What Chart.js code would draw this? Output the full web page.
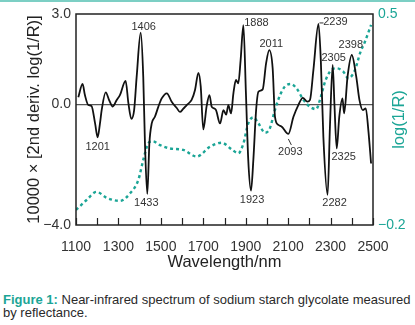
<!DOCTYPE html>
<html>
<head>
<meta charset="utf-8">
<script src="https://cdn.jsdelivr.net/npm/chart.js@4"></script>
<style>
body { margin: 0; background: #fff; width: 415px; height: 325px; overflow: hidden; position: relative; font-family: "Liberation Sans", sans-serif; }
.rule { position: absolute; left: 0; top: 0; width: 415px; height: 2px; background: #7ccfc4; }
#wrap { position: absolute; left: 0; top: 0; width: 415px; height: 283px; }
#cap { position: absolute; left: 3px; top: 293px; font-size: 13px; line-height: 13px; color: #2a2a2a; white-space: nowrap; }
#cap b { color: #1ba596; }
</style>
</head>
<body>
<div class="rule"></div>
<div id="wrap"><canvas id="nir"></canvas></div>
<div id="cap"><b>Figure 1:</b> Near-infrared spectrum of sodium starch glycolate measured<br>by reflectance.</div>
<script>
// 2nd derivative spectrum (left axis, x10000)
const derivNm = [1111, 1131, 1142, 1158, 1173, 1190, 1202, 1213, 1221, 1240, 1257, 1273, 1292, 1307, 1334, 1347, 1361, 1374, 1386, 1405,
  1417, 1425, 1436, 1446, 1457, 1472, 1488, 1504, 1528, 1551, 1575, 1590, 1605, 1622, 1645, 1661, 1677, 1688, 1700, 1716,
  1729, 1740, 1751, 1760, 1779, 1795, 1808, 1818, 1831, 1842, 1854, 1865, 1876, 1889, 1901, 1912, 1925, 1936, 1949, 1960,
  1980, 1996, 2011, 2027, 2038, 2054, 2070, 2101, 2125, 2148, 2169, 2191, 2203, 2219, 2243, 2254, 2266, 2286, 2297, 2310,
  2318, 2329, 2341, 2356, 2364, 2380, 2400, 2421, 2436, 2452, 2466, 2478, 2491];
const derivVal = [0.24, 0.68, 0.31, -0.02, -0.05, -0.63, -1.09, -0.63, -0.19, 0.40, 0.13, -0.07, 0.15, 0.31, 0.78, 0.04, -0.48, -0.19, 0.92, 2.38,
  0.92, -1.28, -2.97, -1.28, -0.63, -0.41, -0.08, 0.20, 0.37, 0.09, -0.12, -0.25, -0.15, -0.02, 0.15, 0.48, 1.05, 0.59, -0.83, -0.05,
  0.31, -0.08, -0.13, -0.19, -0.63, -0.19, -0.34, -0.02, -0.30, 0.37, 0.81, 0.70, 1.47, 2.63, 0.37, -1.84, -2.86, -1.84, -0.19, 0.42,
  0.50, 1.36, 1.80, 1.20, -0.41, -0.68, -0.74, -0.98, -0.41, -0.02, 0.22, 0.09, 0.15, 1.14, 2.67, 1.47, -1.07, -3.00, -0.74, 1.31,
  0.04, -1.46, -0.41, 0.20, -0.30, 0.92, 1.64, 0.92, 0.15, -0.19, -0.13, -0.85, -1.96];

// log(1/R) spectrum (right axis)
const logNm = [1100, 1150, 1197, 1245, 1307, 1355, 1394, 1417, 1441, 1462, 1496, 1543, 1606, 1669, 1732, 1787, 1834, 1865, 1889, 1912,
  1936, 1960, 1991, 2014, 2037, 2062, 2085, 2112, 2140, 2172, 2203, 2232, 2250, 2274, 2297, 2329, 2360, 2384, 2415, 2439,
  2462, 2491];
const logVal = [-0.150, -0.117, -0.090, -0.110, -0.120, -0.095, -0.050, 0.016, 0.071, 0.078, 0.065, 0.054, 0.049, 0.027, 0.060, 0.073, 0.051, 0.038, 0.070, 0.137,
  0.157, 0.137, 0.106, 0.121, 0.180, 0.231, 0.260, 0.268, 0.253, 0.215, 0.192, 0.184, 0.215, 0.275, 0.309, 0.320, 0.309, 0.287, 0.314, 0.370,
  0.408, 0.464];

// marked band positions
const peakNm = [1201, 1406, 1433, 1888, 1923, 2011, 2093, 2239, 2282, 2305, 2325, 2398];

// tick labels
const xLabelNm = [1100, 1300, 1500, 1700, 1900, 2100, 2300, 2500];
const leftTicks = [-4, 0, 3];
const rightTicks = [-0.2, 0.5];

// label placement relative to the marked point (pixels)
const peakOffset = [[0, 10], [3, -6], [-1, 9], [13, -2], [1, 9], [2, -6], [2, 18], [17, -2], [7, 8], [1, -7], [7, 9], [-1, -10]];
const peakLeader = { 2093: [0, 5, 3, 11], 2239: [1, -1, 5, -1] };

const teal = '#1ba596';
const ink = '#222';

function fmt(v) {
  return (v < 0 ? '\u2212' : '') + Math.abs(v).toFixed(1);
}

const decor = {
  id: 'decor',
  afterDatasetsDraw(chart) {
    const { ctx, chartArea: a, scales: { x, y } } = chart;
    ctx.save();
    ctx.strokeStyle = ink;
    ctx.lineWidth = 1.5;
    ctx.strokeRect(a.left, a.top, a.right - a.left, a.bottom - a.top);

    // inward tick marks on the wavelength axis
    ctx.lineWidth = 1.2;
    x.ticks.forEach(t => {
      const px = Math.round(x.getPixelForValue(t.value)) + 0.5;
      ctx.beginPath();
      ctx.moveTo(px, a.bottom);
      ctx.lineTo(px, a.bottom - 7);
      ctx.stroke();
    });

    // band labels
    ctx.font = '11px "Liberation Sans"';
    ctx.fillStyle = '#333';
    ctx.textAlign = 'center';
    ctx.textBaseline = 'middle';
    ctx.lineWidth = 1;
    ctx.strokeStyle = '#333';
    peakNm.forEach((nm, i) => {
      let k = 0;
      derivNm.forEach((w, j) => { if (Math.abs(w - nm) < Math.abs(derivNm[k] - nm)) k = j; });
      const px = x.getPixelForValue(derivNm[k]);
      const py = y.getPixelForValue(derivVal[k]);
      const lead = peakLeader[nm];
      if (lead) {
        ctx.beginPath();
        ctx.moveTo(px + lead[0], py + lead[1]);
        ctx.lineTo(px + lead[2], py + lead[3]);
        ctx.stroke();
      }
      ctx.fillText(String(nm), px + peakOffset[i][0], py + peakOffset[i][1]);
    });

    // right axis title reads bottom to top
    ctx.translate(399, (a.top + a.bottom) / 2);
    ctx.rotate(-Math.PI / 2);
    ctx.font = '16.5px "Liberation Sans"';
    ctx.fillStyle = teal;
    ctx.fillText('log(1/R)', 0, 0);
    ctx.restore();
  }
};

new Chart(document.getElementById('nir'), {
  type: 'line',
  data: {
    datasets: [{
      label: '2nd derivative',
      data: derivNm.map((w, i) => ({ x: w, y: derivVal[i] })),
      yAxisID: 'y',
      borderColor: '#111',
      borderWidth: 1.8,
      pointRadius: 0,
      cubicInterpolationMode: 'monotone',
      order: 1
    }, {
      label: 'log(1/R)',
      data: logNm.map((w, i) => ({ x: w, y: logVal[i] })),
      yAxisID: 'y2',
      borderColor: teal,
      borderWidth: 2.4,
      borderDash: [3, 3],
      pointRadius: 0,
      cubicInterpolationMode: 'monotone',
      order: 2
    }]
  },
  options: {
    responsive: true,
    maintainAspectRatio: false,
    animation: false,
    layout: { padding: { top: 14, left: 0, right: 0, bottom: 0 } },
    plugins: {
      legend: { display: false },
      tooltip: { enabled: false }
    },
    scales: {
      x: {
        type: 'linear',
        min: 1100,
        max: 2500,
        afterFit: s => { s.height = 58; },
        grid: { display: false },
        border: { display: false },
        ticks: {
          stepSize: 100,
          autoSkip: false,
          maxRotation: 0,
          padding: 6,
          color: '#333',
          font: { family: 'Liberation Sans', size: 14 },
          callback: v => xLabelNm.includes(v) ? String(v) : ''
        },
        title: {
          display: true,
          text: 'Wavelength/nm',
          color: '#222',
          font: { family: 'Liberation Sans', size: 16.5 },
          padding: { top: 0, bottom: 11 }
        }
      },
      y: {
        position: 'left',
        min: -4,
        max: 3,
        afterFit: s => { s.width = 76; },
        afterBuildTicks: s => { s.ticks = leftTicks.map(v => ({ value: v })); },
        grid: {
          drawTicks: false,
          lineWidth: 1.3,
          color: c => c.tick && c.tick.value === 0 ? '#555' : 'rgba(0,0,0,0)'
        },
        border: { display: false },
        ticks: {
          padding: 5,
          color: '#333',
          font: { family: 'Liberation Sans', size: 14 },
          callback: v => fmt(v)
        },
        title: {
          display: true,
          text: '10000 \u00d7 [2nd deriv. log(1/R)]',
          color: '#222',
          font: { family: 'Liberation Sans', size: 16.5 },
          padding: { top: 25, bottom: 0 }
        }
      },
      y2: {
        position: 'right',
        min: -0.2,
        max: 0.5,
        afterFit: s => { s.width = 42; },
        afterBuildTicks: s => { s.ticks = rightTicks.map(v => ({ value: v })); },
        grid: { display: false, drawTicks: false },
        border: { display: false },
        ticks: {
          padding: 5,
          color: teal,
          font: { family: 'Liberation Sans', size: 14 },
          callback: v => fmt(v)
        }
      }
    }
  },
  plugins: [decor]
});
</script>
</body>
</html>
